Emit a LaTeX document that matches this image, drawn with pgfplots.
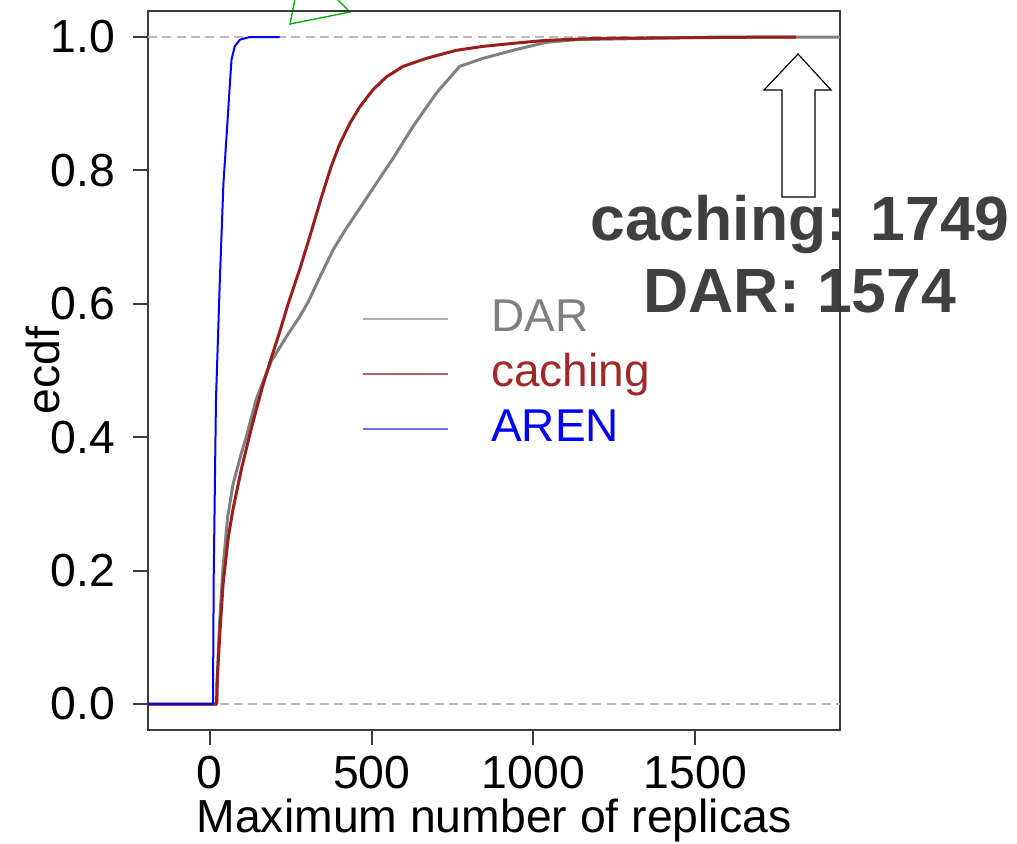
\documentclass[border=0pt]{standalone}
\usepackage{pgfplots}
\pgfplotsset{compat=1.18}
\usepackage{fontspec}
\setmainfont{Liberation Sans}
\definecolor{dargray}{RGB}{128,128,128}
\definecolor{darleg}{RGB}{175,175,175}
\definecolor{cachred}{RGB}{155,30,30}
\definecolor{cachleg}{RGB}{185,100,100}
\definecolor{cachtext}{RGB}{160,40,40}
\definecolor{arenblue}{RGB}{0,0,255}
\definecolor{arenleg}{RGB}{110,110,255}
\definecolor{annot}{RGB}{64,64,64}
\definecolor{framec}{RGB}{60,60,60}
\definecolor{refgray}{RGB}{185,185,185}
\definecolor{tri}{RGB}{0,170,0}

\pgfplotstableread{
x y
-191 0
21 0
22 0.03
31 0.106
41 0.18
57 0.250
72 0.293
98 0.353
123 0.403
139 0.433
164 0.478
190 0.519
216 0.558
242 0.600
278 0.652
309 0.701
345 0.760
375 0.806
401 0.839
432 0.870
463 0.895
504 0.921
545 0.940
597 0.956
669 0.968
761 0.980
844 0.986
947 0.991
1039 0.995
1200 0.998
1749 1.0
1811 1.0
}\caching

\pgfplotstableread{
x y
-191 0
22 0
24 0.05
30 0.12
40 0.2
55 0.28
72 0.33
98 0.377
113 0.401
144 0.458
190 0.514
237 0.551
278 0.581
303 0.602
340 0.640
381 0.681
420 0.712
463 0.743
500 0.770
530 0.792
566 0.818
628 0.866
700 0.916
772 0.956
844 0.968
936 0.980
1039 0.992
1132 0.996
1574 1.0
1947 1.0
}\dar

\pgfplotstableread{
x y
-191 0
10 0
10 0.02
12 0.19
19 0.456
31 0.636
42 0.78
55 0.876
62 0.93
67 0.966
77 0.986
93 0.996
123 1.0
216 1.0
}\aren

\begin{document}
\begin{tikzpicture}
\begin{scope}[x=0.3pt,y=-0.3pt]
\path[use as bounding box] (0,0) rectangle (1017,843);
\node[font=\fontsize{18.75pt}{21.6pt}\selectfont\bfseries, text=annot, anchor=base, inner sep=0pt] at (800,240) {caching: 1749};
\node[font=\fontsize{18.75pt}{21.6pt}\selectfont\bfseries, text=annot, anchor=base, inner sep=0pt] at (800,312) {DAR: 1574};
\draw[tri, line width=0.4pt] (290,24) -- (350,12) -- (302,-36) -- cycle;
\draw[black, line width=0.35pt, line join=miter] (798,54) -- (831,90) -- (815,90) -- (815,197) -- (782,197) -- (782,90) -- (764,90) -- cycle;
\end{scope}
\begin{axis}[
  at={(44.4pt,-219pt)}, anchor=south west,
  scale only axis, width=207.6pt, height=215.7pt,
  xmin=-191, xmax=1947, ymin=-0.039, ymax=1.039,
  xtick={0,500,1000,1500}, xticklabels={0,500,1000,1500},
  ytick={0,0.2,0.4,0.6,0.8,1}, yticklabels={0.0,0.2,0.4,0.6,0.8,1.0},
  tick align=outside, xtick pos=bottom, ytick pos=left,
  major tick length=4.5pt,
  axis line style={framec, line width=0.75pt},
  every tick/.style={framec, line width=0.6pt},
  tick label style={font=\fontsize{13.9pt}{16pt}\selectfont},
  /pgf/number format/assume math mode=true,
  yticklabel style={xshift=-1.8pt},
  xticklabel style={inner sep=0pt, yshift=-3pt},
  xlabel={Maximum number of replicas}, ylabel={ecdf},
  label style={font=\fontsize{13.9pt}{16pt}\selectfont},
  xlabel style={at={(axis description cs:0.5,0)}, anchor=base, inner sep=0pt, yshift=-30.6pt},
  ylabel style={at={(axis description cs:-0.152,0.5)}, anchor=center},
  legend image code/.code={\draw[#1] (0pt,0pt) -- (25.5pt,0pt);},
  legend cell align=left,
  legend style={draw=none, fill=none, inner sep=0pt, outer sep=0pt,
    at={(axis cs:469,0.609)}, anchor=north west,
    font=\fontsize{13.8pt}{16pt}\selectfont,
    nodes={inner sep=0pt, text height=10pt, text depth=3pt},
    row sep=3.5pt,
    /tikz/every odd column/.append style={column sep=12.8pt}},
]
\addplot[refgray, dash pattern=on 2.7pt off 1.6pt, line width=0.5pt, forget plot] coordinates {(-191,0) (1947,0)};
\addplot[refgray, dash pattern=on 2.7pt off 1.6pt, line width=0.5pt, forget plot] coordinates {(-191,1) (1947,1)};
\addplot[dargray, line width=0.9pt, line join=round, forget plot] table[x=x,y=y] {\dar};
\addplot[cachred, line width=0.9pt, line join=round, forget plot] table[x=x,y=y] {\caching};
\addplot[arenblue, line width=0.6pt, line join=round, forget plot] table[x=x,y=y] {\aren};
\addlegendimage{darleg, line width=0.6pt}
\addlegendentry{\textcolor{dargray}{DAR}}
\addlegendimage{cachleg, line width=0.6pt}
\addlegendentry{\textcolor{cachtext}{caching}}
\addlegendimage{arenleg, line width=0.6pt}
\addlegendentry{\textcolor{arenblue}{AREN}}
\end{axis}
\end{tikzpicture}
\end{document}
